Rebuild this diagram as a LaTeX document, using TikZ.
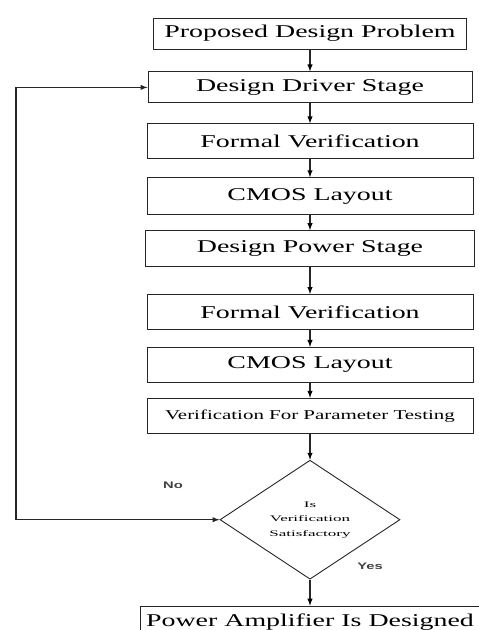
\documentclass[tikz,border=0pt]{standalone}
\usepackage{fontspec}
\usepackage{graphicx}
\usepackage{tikz}
\usetikzlibrary{positioning,shapes,arrows}
\setmainfont{Liberation Serif}
\newfontfamily\answerfont{Liberation Sans}
% wide lettering of the boxes
\newcommand{\wide}[2][1.55]{\scalebox{#1}[1]{#2}}
\tikzset{
  stage/.style={draw=black!85, line width=0.9pt, rectangle, minimum width=326pt,
    minimum height=35pt, inner sep=0pt, font=\fontsize{18}{20}\selectfont},
  decide/.style={draw=black!85, line width=0.9pt, diamond, minimum width=180pt,
    minimum height=119pt, inner sep=0pt, align=center,
    font=\fontsize{8.5}{14.5}\selectfont},
  answer/.style={font=\answerfont\bfseries\fontsize{9.5}{11}\selectfont, text=black!75},
  flow/.style={line width=1.4pt, draw=black!85}
}
\begin{document}
\begin{tikzpicture}[x=1pt,y=1pt]
\useasboundingbox (0,0) rectangle (479,-630);
\node[stage, minimum width=313pt, minimum height=31pt] (np) at (310,-33.5) {\wide{Proposed Design Problem}};
\node[stage, minimum width=324pt, minimum height=31pt, below=22pt of np] (nd) {\wide{Design Driver Stage}};
\node[stage, below=20pt of nd] (nf1) {\wide{Formal Verification}};
\node[stage, minimum height=37pt, below=18pt of nf1] (nc1) {\wide{CMOS Layout}};
\node[stage, minimum width=329pt, minimum height=36pt, below=15pt of nc1] (npw) {\wide{Design Power Stage}};
\node[stage, below=27pt of npw] (nf2) {\wide{Formal Verification}};
\node[stage, below=17pt of nf2] (nc2) {\wide{CMOS Layout}};
\node[stage, font=\fontsize{13.5}{15}\selectfont, below=15pt of nc2] (nt) {\wide{Verification For Parameter Testing}};
\node[decide, below=26pt of nt] (nv) {\wide[2]{Is}\\\wide[2]{Verification}\\\wide[2]{Satisfactory}};
% last box runs off the bottom edge
\node[stage, minimum width=340pt, minimum height=0pt, text height=20pt, text depth=22pt,
  below=26pt of nv] (na) {\wide{Power Amplifier Is Designed}};
\coordinate (nb) at (16,0);
\node[answer] (lno) at (173,-485) {\wide{No}};
\node[answer] (lyes) at (370,-566) {\wide{Yes}};
\path[flow] (np) edge[-latex] (nd)
(nd) edge[-latex] (nf1)
(nf1) edge[-latex] (nc1)
(nc1) edge[-latex] (npw)
(npw) edge[-latex] (nf2)
(nf2) edge[-latex] (nc2)
(nc2) edge[-latex] (nt)
(nt) edge[-latex] (nv)
(nv) edge[-latex] (na);
\draw[flow, latex-latex] (nv.west) -- (nv.west -| nb) |- (nd.west);
\end{tikzpicture}
\end{document}
